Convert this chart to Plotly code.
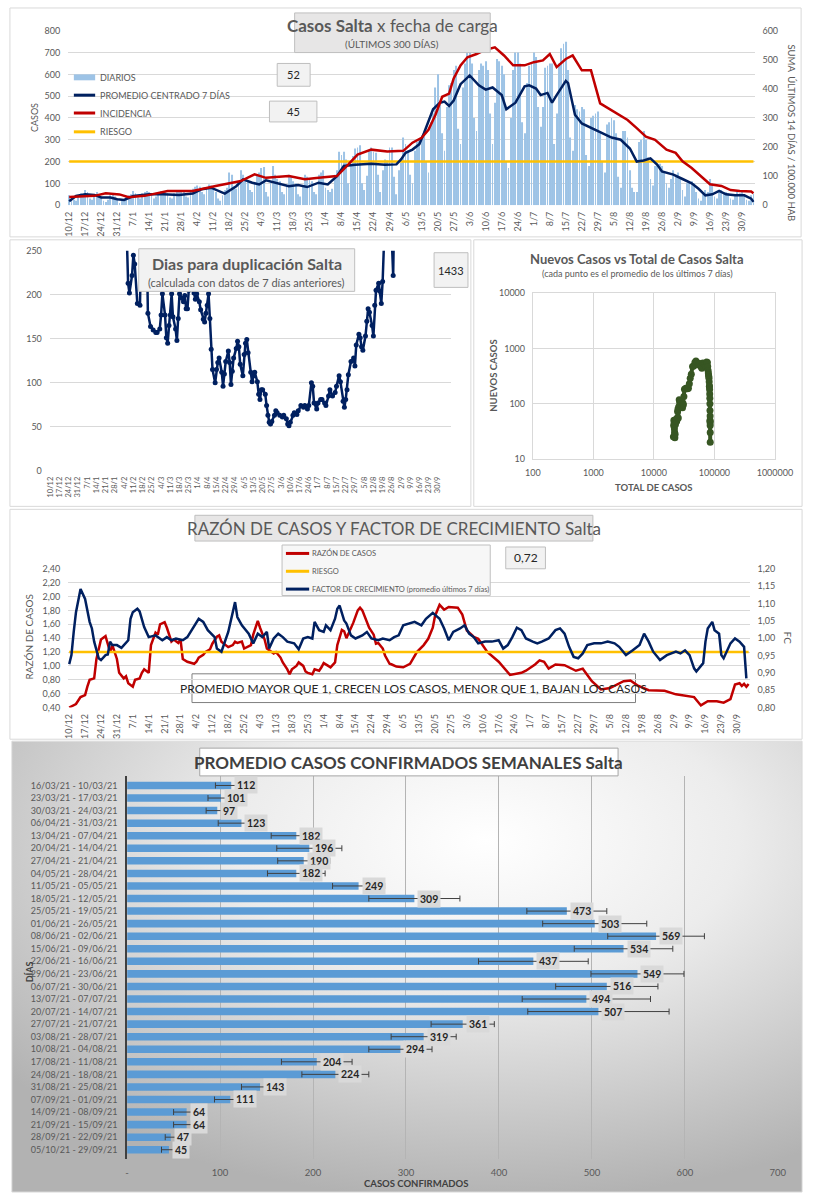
import base64
import pandas as pd
import plotly.graph_objects as go

W, H = 822, 1200
FONT = "Lato, 'DejaVu Sans', sans-serif"
TXT = "#595959"
DARK = "#262626"
GRID = "#d9d9d9"
NAVY = "#002060"
RED = "#c00000"
YELLOW = "#ffc000"
BAR_LIGHT = "#9dc3e6"
BAR_BLUE = "#5b9bd5"
GREEN = "#375623"

# ---------------- DATA ----------------
FECHA_INICIO = "2020-12-10"

# daily cases (Thu..Wed weeks)
DIARIOS = [
    45, 40, 25, 20, 45, 55, 50,
    70, 60, 30, 25, 50, 60, 45,
    40, 20, 15, 25, 45, 50, 40,
    30, 10, 20, 25, 40, 45, 50,
    65, 55, 35, 30, 55, 60, 65,
    60, 50, 30, 40, 55, 65, 60,
    60, 55, 35, 30, 55, 65, 70,
    70, 60, 40, 35, 60, 75, 85,
    90, 85, 60, 50, 80, 95, 90,
    80, 60, 30, 20, 45, 70, 80,
    150, 140, 85, 75, 110, 160, 140,
    125, 110, 70, 60, 100, 140, 150,
    170, 175, 60, 40, 110, 180, 140,
    120, 110, 60, 50, 95, 140, 130,
    110, 100, 50, 40, 90, 140, 130,
    120, 110, 60, 50, 140, 150, 160,
    80, 70, 60, 75, 140, 160, 245,
    230, 245, 210, 100, 180, 225, 260,
    265, 275, 100, 70, 135, 250, 265,
    245, 240, 140, 60, 160, 210, 205,
    265, 265, 130, 50, 160, 195, 310,
    280, 250, 140, 100, 250, 290, 300,
    320, 330, 200, 150, 380, 420, 540,
    600, 470, 330, 250, 450, 550, 560,
    620, 640, 350, 280, 540, 650, 700,
    700, 650, 400, 340, 620, 650, 640,
    660, 620, 420, 280, 470, 670, 660,
    640, 600, 200, 170, 400, 620, 700,
    700, 650, 380, 330, 560, 640, 650,
    700, 680, 450, 360, 450, 630, 640,
    650, 650, 280, 420, 650, 720, 740,
    750, 620, 310, 250, 460, 440, 430,
    450, 440, 230, 180, 400, 410, 420,
    430, 330, 200, 150, 370, 380, 400,
    390, 330, 130, 80, 340, 340, 310,
    160, 80, 60, 60, 290, 300, 340,
    300, 220, 120, 90, 180, 190, 190,
    180, 150, 100, 80, 120, 160, 140,
    150, 120, 70, 40, 100, 110, 110,
    100, 60, 30, 20, 50, 70, 60,
    120, 100, 40, 30, 70, 70, 60,
    60, 55, 30, 25, 50, 60, 55,
    60, 50, 25, 20, 45, 52,
]

# 7-day centered average (day number since start, value)
PROM_DIA = [0, 3, 7, 11, 14, 18, 21, 24, 28, 35,
            41, 48, 54, 58, 62, 68, 73, 76, 80, 83,
            86, 90, 96, 100, 104, 109, 113, 117, 120, 125,
            132, 138, 143, 145, 147, 150, 153, 155, 157, 159,
            162, 164, 166, 168, 171, 175, 179, 182, 185, 189,
            191, 195, 199, 201, 204, 206, 209, 211, 213, 217,
            218, 221, 224, 228, 233, 237, 241, 245, 248, 251,
            254, 257, 259, 264, 268, 272, 275, 278, 281, 284,
            287, 291, 295, 298, 299]
PROM_VAL = [18, 42, 50, 47, 35, 35, 27, 24, 42, 50,
            50, 47, 53, 73, 80, 53, 87, 118, 103, 95,
            114, 103, 87, 92, 83, 103, 95, 133, 180, 185,
            190, 185, 187, 210, 240, 255, 280, 330, 390, 440,
            470, 475, 455, 480, 555, 595, 550, 530, 540, 505,
            440, 470, 545, 550, 535, 505, 515, 470, 505, 570,
            560, 415, 375, 355, 330, 310, 300, 260, 200, 205,
            215, 185, 155, 140, 120, 100, 75, 45, 50, 65,
            50, 45, 45, 30, 15]

# incidence: sum last 14 days / 100.000 hab (right axis)
INC_DIA = [0, 11, 16, 22, 26, 33, 43, 54, 64, 75,
           81, 86, 96, 103, 109, 117, 122, 126, 132, 139,
           146, 150, 154, 157, 160, 163, 166, 168, 171, 174,
           178, 181, 186, 190, 194, 199, 203, 207, 210, 213,
           217, 220, 224, 228, 232, 238, 244, 248, 252, 256,
           261, 265, 268, 272, 276, 280, 285, 289, 293, 296,
           298, 299]
INC_VAL = [28, 32, 41, 37, 27, 32, 49, 49, 66, 83,
           106, 94, 100, 89, 94, 100, 140, 174, 191, 185,
           187, 215, 232, 259, 310, 373, 384, 436, 481, 509,
           520, 532, 543, 515, 481, 481, 492, 498, 520, 475,
           503, 515, 464, 464, 350, 321, 293, 265, 236, 225,
           191, 180, 151, 128, 100, 72, 66, 52, 49, 49,
           47, 41]

RIESGO_CASOS = 200

# days for doubling
DUP_DIA = [57, 59, 60, 62, 63, 64, 66, 68, 69, 71,
           73, 74, 76, 78, 80, 81, 83, 84, 85, 87,
           88, 89, 90, 91, 92, 93, 95, 96, 97, 98,
           100, 101, 102, 103, 104, 105, 106, 107, 109, 110,
           111, 113, 114, 116, 117, 118, 119, 120, 121, 122,
           123, 125, 126, 127, 128, 130, 131, 132, 133, 135,
           136, 137, 138, 139, 141, 142, 143, 144, 146, 147,
           148, 149, 150, 152, 153, 154, 155, 157, 158, 159,
           160, 161, 163, 164, 165, 166, 167, 168, 170, 171,
           172, 174, 176, 177, 179, 180, 181, 182, 184, 185,
           187, 188, 190, 192, 193, 195, 196, 198, 199, 200,
           202, 203, 205, 206, 208, 209, 211, 212, 214, 216,
           217, 219, 220, 222, 223, 224, 225, 226, 228, 230,
           231, 232, 234, 235, 236, 237, 239, 240, 241, 242,
           244, 245, 246, 247, 249, 250, 251, 252, 254, 258,
           260, 261]
DUP_VAL = [320, 213, 202, 222, 245, 235, 190, 188, 270, 300,
           280, 179, 164, 160, 157, 157, 161, 177, 201, 177,
           151, 145, 165, 177, 201, 175, 161, 148, 173, 201,
           196, 192, 199, 184, 184, 205, 280, 270, 202, 195,
           201, 192, 183, 172, 169, 179, 188, 201, 173, 138,
           115, 100, 115, 123, 128, 112, 96, 110, 124, 136,
           123, 98, 113, 128, 139, 147, 141, 121, 108, 132,
           145, 149, 134, 112, 101, 108, 112, 101, 87, 81,
           92, 92, 87, 74, 63, 55, 53, 56, 63, 68,
           66, 63, 61, 63, 59, 53, 51, 55, 63, 66,
           64, 68, 74, 72, 74, 70, 74, 100, 96, 77,
           70, 77, 81, 81, 77, 74, 85, 92, 85, 89,
           96, 108, 101, 79, 72, 81, 92, 109, 124, 128,
           119, 143, 155, 151, 141, 137, 153, 170, 184, 180,
           165, 153, 188, 205, 213, 204, 190, 215, 300, 300,
           222, 320]

# new cases vs total cases
SC_TOTAL = [21000, 21200, 21400, 21600, 21800, 22000, 22200, 22400, 22700, 23000,
            23400, 23800, 24200, 24600, 25000, 25300, 25700, 26200, 26700, 27200,
            27700, 28200, 28700, 29200, 29700, 30200, 30700, 31300, 32000, 33300,
            34600, 35900, 37200, 38500, 39800, 41500, 43500, 45500, 47500, 49500,
            52000, 54500, 57000, 59500, 62000, 64500, 67000, 69500, 72000, 74500,
            76500, 77500, 78500, 79300, 80000, 80700, 81300, 81900, 82400, 82800,
            83200, 83600, 83900, 84200, 84400, 84550, 84700, 84850, 85000, 85100,
            85200, 85250]
SC_NUEVOS = [25, 40, 50, 45, 35, 30, 24, 28, 42, 50,
             52, 48, 55, 72, 80, 55, 88, 118, 105, 96,
             112, 100, 88, 92, 84, 102, 96, 135, 182, 188,
             192, 186, 190, 230, 290, 340, 470, 480, 560, 595,
             550, 505, 535, 470, 440, 545, 530, 505, 470, 570,
             560, 470, 400, 360, 330, 310, 290, 250, 205, 210,
             180, 150, 125, 100, 75, 50, 48, 60, 45, 40,
             30, 20]

# case ratio (left axis)
RAZON_DIA = [0, 3, 5, 7, 8, 9, 11, 12, 14, 15,
             16, 18, 19, 21, 22, 24, 25, 26, 28, 29,
             31, 32, 33, 35, 36, 38, 39, 40, 42, 43,
             45, 46, 48, 49, 50, 52, 53, 55, 56, 57,
             59, 60, 62, 63, 65, 66, 67, 69, 70, 72,
             73, 74, 76, 77, 79, 80, 81, 83, 84, 86,
             87, 89, 90, 91, 93, 94, 96, 97, 98, 100,
             101, 103, 104, 105, 107, 108, 110, 111, 112, 114,
             115, 117, 118, 120, 121, 122, 124, 125, 127, 128,
             129, 131, 132, 134, 135, 136, 138, 139, 141, 142,
             144, 147, 150, 153, 156, 158, 160, 161, 163, 165,
             167, 171, 173, 175, 178, 180, 184, 189, 192, 194,
             199, 201, 205, 207, 209, 211, 214, 218, 223, 226,
             230, 234, 238, 244, 247, 250, 255, 261, 262, 267,
             272, 275, 278, 281, 285, 288, 291, 293, 295, 296,
             297, 298, 299]
RAZON_VAL = [0.40, 0.45, 0.55, 0.58, 0.70, 0.80, 0.82, 1.10, 1.38, 1.41,
             1.43, 1.20, 1.30, 1.10, 0.90, 0.82, 0.85, 0.75, 0.70, 0.80,
             0.82, 0.90, 0.95, 0.90, 1.30, 1.48, 1.45, 1.60, 1.63, 1.55,
             1.35, 1.38, 1.33, 1.38, 1.10, 1.06, 1.05, 1.03, 1.06, 1.12,
             1.16, 1.20, 1.24, 1.32, 1.42, 1.44, 1.35, 1.30, 1.27, 1.30,
             1.35, 1.33, 1.35, 1.25, 1.28, 1.30, 1.45, 1.65, 1.55, 1.38,
             1.25, 1.20, 1.18, 1.20, 1.12, 1.05, 0.95, 0.88, 0.95, 1.00,
             1.05, 1.00, 0.92, 0.90, 0.88, 0.95, 0.93, 0.98, 1.04, 1.00,
             0.98, 1.05, 1.30, 1.52, 1.50, 1.40, 1.55, 1.62, 1.80, 1.84,
             1.80, 1.65, 1.55, 1.45, 1.32, 1.33, 1.25, 1.15, 1.03, 1.02,
             0.99, 0.98, 1.03, 1.20, 1.30, 1.39, 1.55, 1.72, 1.88, 1.81,
             1.85, 1.84, 1.74, 1.51, 1.42, 1.39, 1.20, 1.06, 0.95, 0.87,
             0.90, 0.93, 1.02, 1.08, 1.06, 0.96, 1.02, 1.01, 0.93, 0.96,
             0.78, 0.66, 0.68, 0.78, 0.79, 0.72, 0.65, 0.65, 0.64, 0.59,
             0.57, 0.55, 0.43, 0.49, 0.49, 0.47, 0.52, 0.73, 0.75, 0.71,
             0.74, 0.70, 0.74]
RIESGO_RAZON = 1.20

# growth factor, 7-day average (right axis)
FC_DIA = [0, 1, 2, 3, 5, 7, 9, 10, 11, 13,
          14, 16, 17, 18, 19, 21, 23, 26, 27, 28,
          30, 31, 33, 34, 35, 38, 40, 41, 43, 45,
          47, 50, 52, 55, 57, 59, 61, 64, 65, 67,
          68, 70, 72, 73, 74, 76, 79, 81, 83, 85,
          87, 88, 90, 92, 94, 96, 99, 101, 103, 105,
          107, 108, 110, 112, 113, 115, 117, 118, 119, 121,
          122, 124, 126, 129, 131, 133, 136, 138, 141, 143,
          145, 147, 152, 155, 157, 160, 163, 165, 167, 169,
          172, 174, 176, 178, 180, 183, 186, 189, 191, 193,
          195, 197, 199, 201, 204, 206, 208, 211, 214, 216,
          218, 220, 222, 224, 226, 228, 231, 234, 237, 240,
          242, 245, 248, 251, 253, 255, 257, 260, 263, 267,
          269, 271, 273, 275, 276, 279, 280, 281, 283, 284,
          286, 287, 288, 290, 291, 293, 295, 297, 298]
FC_VAL = [0.925, 0.951, 1.018, 1.075, 1.142, 1.113, 1.047, 1.028, 0.990, 0.942,
          0.937, 0.951, 0.953, 0.990, 0.980, 0.980, 0.972, 0.994, 1.056, 1.075,
          1.085, 1.077, 1.032, 1.018, 1.003, 1.008, 0.999, 0.994, 1.003, 0.994,
          0.999, 0.994, 1.003, 1.037, 1.056, 1.047, 1.023, 1.003, 0.970, 0.961,
          0.980, 1.018, 1.075, 1.104, 1.061, 1.037, 1.013, 0.985, 1.013, 1.003,
          1.018, 0.970, 0.999, 1.013, 1.003, 0.990, 0.985, 0.968, 0.999, 1.003,
          0.999, 1.047, 1.023, 1.018, 1.037, 1.023, 1.056, 1.085, 1.094, 1.051,
          1.042, 1.008, 0.999, 1.008, 1.018, 0.999, 0.994, 0.999, 0.994, 1.003,
          1.008, 1.037, 1.047, 1.037, 1.056, 1.073, 1.056, 1.028, 0.994, 1.018,
          1.028, 1.037, 1.013, 1.003, 0.985, 0.990, 0.990, 0.994, 0.970, 0.980,
          1.003, 1.030, 1.023, 0.999, 0.990, 0.985, 0.990, 0.999, 1.023, 1.028,
          1.013, 0.975, 0.946, 0.942, 0.956, 0.980, 0.985, 0.985, 0.990, 0.985,
          0.975, 0.951, 0.965, 0.980, 1.013, 0.990, 0.961, 0.937, 0.951, 0.961,
          0.956, 0.965, 0.951, 0.913, 0.904, 0.928, 0.990, 1.028, 1.047, 1.023,
          1.013, 0.951, 0.942, 0.970, 0.985, 0.999, 0.990, 0.975, 0.884]

# weekly averages
SEMANAS = ["16/03/21 - 10/03/21", "23/03/21 - 17/03/21", "30/03/21 - 24/03/21",
           "06/04/21 - 31/03/21", "13/04/21 - 07/04/21", "20/04/21 - 14/04/21",
           "27/04/21 - 21/04/21", "04/05/21 - 28/04/21", "11/05/21 - 05/05/21",
           "18/05/21 - 12/05/21", "25/05/21 - 19/05/21", "01/06/21 - 26/05/21",
           "08/06/21 - 02/06/21", "15/06/21 - 09/06/21", "22/06/21 - 16/06/21",
           "29/06/21 - 23/06/21", "06/07/21 - 30/06/21", "13/07/21 - 07/07/21",
           "20/07/21 - 14/07/21", "27/07/21 - 21/07/21", "03/08/21 - 28/07/21",
           "10/08/21 - 04/08/21", "17/08/21 - 11/08/21", "24/08/21 - 18/08/21",
           "31/08/21 - 25/08/21", "07/09/21 - 01/09/21", "14/09/21 - 08/09/21",
           "21/09/21 - 15/09/21", "28/09/21 - 22/09/21", "05/10/21 - 29/09/21"]
PROMEDIO_SEMANAL = [112, 101, 97, 123, 182, 196, 190, 182, 249, 309,
                    473, 503, 569, 534, 437, 549, 516, 494, 507, 361,
                    319, 294, 204, 224, 143, 111, 64, 64, 47, 45]
ERROR_SEMANAL = [17, 14, 12, 25, 27, 35, 28, 31, 28, 49,
                 43, 56, 52, 53, 59, 50, 55, 69, 76, 34,
                 35, 34, 38, 36, 20, 17, 14, 14, 6, 8]

TICKS_BARRAS = [0, 100, 200, 300, 400, 500, 600, 700]
TICKS_BARRAS_TXT = ["-", "100", "200", "300", "400", "500", "600", "700"]
TICKS_TOTAL = [100, 1000, 10000, 100000, 1000000]
TICKS_TOTAL_TXT = ["100", "1000", "10000", "100000", "1000000"]
TICKS_NUEVOS = [10, 100, 1000, 10000]
TICKS_NUEVOS_TXT = ["10", "100", "1000", "10000"]

# ---------------- HELPERS ----------------
def fx(x):
    return x / W


def fy(y):
    return 1 - y / H


t0 = pd.Timestamp(FECHA_INICIO)
fechas = pd.date_range(t0, periods=len(DIARIOS), freq="D")
semanas_tick = [d.strftime("%Y-%m-%d") for d in pd.date_range(t0, fechas[-1], freq="7D")]
semanas_txt = [f"{d.day}/{d.month}" for d in pd.date_range(t0, fechas[-1], freq="7D")]


def dias(lst):
    return [(t0 + pd.Timedelta(days=d)).strftime("%Y-%m-%d") for d in lst]


def ts(t):
    return t.strftime("%Y-%m-%d %H:%M")


DAY_MS = 86400000
half = pd.Timedelta(hours=12)

fig = go.Figure()

# ---- panel 1: daily cases ----
fig.add_trace(go.Bar(x=fechas, y=DIARIOS, width=0.38 * DAY_MS,
                     marker=dict(color=BAR_LIGHT, line=dict(width=0)),
                     xaxis="x", yaxis="y"))
fig.add_trace(go.Scatter(x=[fechas[0], fechas[-1]], y=[RIESGO_CASOS, RIESGO_CASOS],
                         mode="lines", line=dict(color=YELLOW, width=2.5),
                         xaxis="x", yaxis="y"))
fig.add_trace(go.Scatter(x=dias(PROM_DIA), y=PROM_VAL, mode="lines",
                         line=dict(color=NAVY, width=2.5), xaxis="x", yaxis="y"))
fig.add_trace(go.Scatter(x=dias(INC_DIA), y=INC_VAL, mode="lines",
                         line=dict(color=RED, width=2.5), xaxis="x", yaxis="y2"))

# ---- panel 2: doubling days ----
fig.add_trace(go.Scatter(x=dias(DUP_DIA), y=DUP_VAL, mode="lines+markers",
                         line=dict(color=NAVY, width=2.5),
                         marker=dict(color=NAVY, size=5),
                         xaxis="x2", yaxis="y3"))

# ---- panel 3: new vs total ----
fig.add_trace(go.Scatter(x=SC_TOTAL, y=SC_NUEVOS, mode="lines+markers",
                         line=dict(color=GREEN, width=4),
                         marker=dict(color=GREEN, size=7),
                         xaxis="x3", yaxis="y4"))

# ---- panel 4: ratio and growth factor ----
fig.add_trace(go.Scatter(x=dias(RAZON_DIA), y=RAZON_VAL, mode="lines",
                         line=dict(color=RED, width=2.5), xaxis="x4", yaxis="y5"))
fig.add_trace(go.Scatter(x=[fechas[0], fechas[-1]], y=[RIESGO_RAZON, RIESGO_RAZON],
                         mode="lines", line=dict(color=YELLOW, width=2.5),
                         xaxis="x4", yaxis="y5"))
fig.add_trace(go.Scatter(x=dias(FC_DIA), y=FC_VAL, mode="lines",
                         line=dict(color=NAVY, width=2.5), xaxis="x4", yaxis="y6"))

# ---- panel 5: weekly averages ----
fig.add_trace(go.Bar(orientation="h", x=PROMEDIO_SEMANAL, y=SEMANAS, width=0.6,
                     marker=dict(color=BAR_BLUE, line=dict(width=0)),
                     error_x=dict(type="data", array=ERROR_SEMANAL, color="#404040",
                                  thickness=1, width=3),
                     xaxis="x5", yaxis="y7"))

# ---------------- AXES ----------------
hidden_tick = dict(ticks="outside", ticklen=5, tickcolor="rgba(0,0,0,0)")
date_common = dict(type="date", tickmode="array", tickvals=semanas_tick, ticktext=semanas_txt,
                   tickangle=-90, showgrid=False, zeroline=False,
                   ticks="outside", ticklen=2, tickcolor="rgba(0,0,0,0)")

rng_top = [ts(t0 - half), ts(fechas[-1] + half)]

layout_axes = dict(
    xaxis=dict(domain=[fx(62), fx(771)], anchor="y", range=rng_top,
               tickfont=dict(size=9, color=TXT), **date_common),
    yaxis=dict(domain=[fy(201), fy(25)], anchor="x", range=[0, 800], dtick=100,
               gridcolor=GRID, zeroline=False, tickfont=dict(size=9, color=TXT), **hidden_tick),
    yaxis2=dict(overlaying="y", side="right", anchor="x", range=[0, 600], dtick=100,
                showgrid=False, zeroline=False, tickfont=dict(size=9, color=TXT), **hidden_tick),
    xaxis2=dict(domain=[fx(43), fx(457)], anchor="y3",
                range=[ts(t0 - half), ts(t0 + pd.Timedelta(days=303.5))],
                tickfont=dict(size=7.5, color=TXT), **date_common),
    yaxis3=dict(domain=[fy(469), fy(247)], anchor="x2", range=[0, 250], dtick=50,
                gridcolor=GRID, zeroline=False, tickfont=dict(size=9, color=TXT), **hidden_tick),
    xaxis3=dict(domain=[fx(542), fx(792)], anchor="y4", type="log", range=[2, 6],
                tickvals=TICKS_TOTAL, ticktext=TICKS_TOTAL_TXT, gridcolor=GRID,
                showline=True, linecolor=GRID, mirror=True, zeroline=False,
                tickfont=dict(size=9, color=TXT), **hidden_tick),
    yaxis4=dict(domain=[fy(457), fy(290)], anchor="x3", type="log", range=[1, 4],
                tickvals=TICKS_NUEVOS, ticktext=TICKS_NUEVOS_TXT, gridcolor=GRID,
                showline=True, linecolor=GRID, mirror=True, zeroline=False,
                tickfont=dict(size=9, color=TXT), **hidden_tick),
    xaxis4=dict(domain=[fx(62), fx(766)], anchor="y5", range=rng_top,
                tickfont=dict(size=9, color=TXT), **date_common),
    yaxis5=dict(domain=[fy(708), fy(568)], anchor="x4", range=[0.4, 2.4], dtick=0.2,
                tick0=0.4, tickformat=".2f", gridcolor=GRID, zeroline=False,
                tickfont=dict(size=9, color=TXT), **hidden_tick),
    yaxis6=dict(overlaying="y5", side="right", anchor="x4", range=[0.8, 1.2], dtick=0.05,
                tick0=0.8, tickformat=".2f", showgrid=False, zeroline=False,
                tickfont=dict(size=9, color=TXT), **hidden_tick),
    xaxis5=dict(domain=[fx(123), fx(795)], anchor="y7", range=[0, 700],
                tickvals=TICKS_BARRAS, ticktext=TICKS_BARRAS_TXT, gridcolor="#b4b4b4",
                zeroline=False, tickfont=dict(size=9.5, color=TXT), **hidden_tick),
    yaxis7=dict(domain=[fy(1163.4), fy(777.6)], anchor="x5", type="category",
                autorange="reversed", showline=True, linecolor="#404040", linewidth=1.5,
                showgrid=False, tickfont=dict(size=9, color=TXT),
                ticks="outside", ticklen=6, tickcolor="rgba(0,0,0,0)"),
)

# ---------------- DECORATION ----------------
shapes = []
annotations = []


def rect(x0, y0, x1, y1, fill="rgba(0,0,0,0)", line=GRID, width=1, layer="above"):
    shapes.append(dict(type="rect", xref="paper", yref="paper",
                       x0=fx(x0), x1=fx(x1), y0=fy(y1), y1=fy(y0),
                       fillcolor=fill, line=dict(color=line, width=width), layer=layer))


def seg(x0, x1, y, color, width=3):
    shapes.append(dict(type="line", xref="paper", yref="paper",
                       x0=fx(x0), x1=fx(x1), y0=fy(y), y1=fy(y),
                       line=dict(color=color, width=width)))


def note(x, y, text, size, color=TXT, xanchor="center", angle=0):
    annotations.append(dict(x=fx(x), y=fy(y), xref="paper", yref="paper", text=text,
                            showarrow=False, font=dict(size=size, color=color),
                            xanchor=xanchor, yanchor="middle", textangle=angle))


# panel borders
rect(2, 2, 819, 233)
rect(2, 236, 478, 505)
rect(481, 236, 820, 505)
rect(2, 508, 820, 740)
rect(4, 742, 820, 1197)

# panel 1
rect(296, 7, 498, 47, fill="#e7e6e6", line="#bfbfbf")
note(397, 20, "<b>Casos Salta</b> x fecha de carga", 17)
note(397, 38, "(ÚLTIMOS 300 DÍAS)", 10)
rect(278, 58, 312, 81, fill="#f2f2f2", line="#bfbfbf")
note(295, 69.5, "52", 11, DARK)
rect(270, 96, 319, 117, fill="#f2f2f2", line="#bfbfbf")
note(294.5, 106.5, "45", 11, DARK)
rect(68, 69, 90, 75, fill=BAR_LIGHT, line=BAR_LIGHT, width=0)
seg(68, 90, 90, NAVY)
seg(68, 90, 108, RED)
seg(68, 90, 127, YELLOW)
note(93, 72, "DIARIOS", 9, xanchor="left")
note(93, 90, "PROMEDIO CENTRADO 7 DÍAS", 9, xanchor="left")
note(93, 108, "INCIDENCIA", 9, xanchor="left")
note(93, 127, "RIESGO", 9, xanchor="left")
note(28, 113, "CASOS", 9, angle=-90)
note(809, 128, "SUMA  ÚLTIMOS 14 DÍAS / 100.000 HAB", 9.5, angle=90)

# panel 2
rect(135, 245, 358, 288, fill="#f2f2f2", line="#bfbfbf")
note(246.5, 260, "<b>Dias para duplicación Salta</b>", 16)
note(246.5, 279, "(calculada con datos de 7 días anteriores)", 11)
rect(440, 249, 475, 284, fill="#f2f2f2", line="#bfbfbf")
note(457.5, 266.5, "1433", 11, DARK)

# panel 3
note(650, 255, "<b>Nuevos Casos vs Total de Casos Salta</b>", 13)
note(650, 270, "(cada punto es el promedio de los últimos 7 días)", 9)
note(501, 373, "<b>NUEVOS CASOS</b>", 9.5, angle=-90)
note(667, 486, "<b>TOTAL DE CASOS</b>", 9.5)

# panel 4
rect(193, 514, 604, 540, fill="#e7e6e6", line="#bfbfbf")
note(398.5, 527, "RAZÓN DE CASOS Y FACTOR DE CRECIMIENTO Salta", 17)
rect(283, 544, 498, 595, fill="#f7f7f7", line="#bfbfbf")
seg(287, 311, 552.5, RED)
seg(287, 311, 570.5, YELLOW)
seg(287, 311, 588.5, NAVY)
note(312, 552.5, "RAZÓN DE CASOS", 7.5, xanchor="left")
note(312, 570.5, "RIESGO", 7.5, xanchor="left")
note(312, 588.5, "FACTOR DE CRECIMIENTO (promedio últimos 7 días)", 7.5, xanchor="left")
rect(514, 546, 555, 568, fill="#f2f2f2", line="#bfbfbf")
note(534.5, 557, "0,72", 12, DARK)
rect(190, 674, 648, 703, fill="white", line="#7f7f7f", layer="below")
note(419, 689, "PROMEDIO MAYOR QUE 1, CRECEN LOS CASOS, MENOR QUE 1, BAJAN LOS CASOS", 12, DARK)
note(22, 637, "RAZÓN DE CASOS", 10, angle=-90)
note(805, 638, "FC", 10, angle=90)

# panel 5
rect(198, 749, 630, 777, fill="white", line="#a6a6a6")
note(414, 763, "<b>PROMEDIO CASOS CONFIRMADOS SEMANALES Salta</b>", 17, "#404040")
note(22, 975, "<b>DÍAS</b>", 9, "#404040", angle=-90)
note(421, 1188, "<b>CASOS CONFIRMADOS</b>", 9.5, "#404040")
for s, v in zip(SEMANAS, PROMEDIO_SEMANAL):
    annotations.append(dict(x=v, y=s, xref="x5", yref="y7", text=f"<b>{v}</b>",
                            showarrow=False, xanchor="left", yanchor="middle", xshift=3,
                            font=dict(size=10.5, color=DARK),
                            bgcolor="#d9d9d9", borderpad=2))

svg = ("<svg xmlns='http://www.w3.org/2000/svg' width='816' height='455' "
       "viewBox='0 0 816 455' preserveAspectRatio='none'>"
       "<defs><radialGradient id='g' cx='0.6' cy='0.22' r='0.8'>"
       "<stop offset='0' stop-color='#ffffff'/>"
       "<stop offset='0.4' stop-color='#ececec'/>"
       "<stop offset='1' stop-color='#b2b2b2'/>"
       "</radialGradient></defs>"
       "<rect width='816' height='455' fill='url(#g)'/></svg>")
src = "data:image/svg+xml;base64," + base64.b64encode(svg.encode()).decode()

# initial size leaves room for the default 8px page margin; the post script
# removes the margin and sizes the figure to the full visible page
fig.update_layout(
    width=W - 16, height=H - 16, autosize=False,
    margin=dict(l=0, r=0, t=0, b=0),
    paper_bgcolor="white", plot_bgcolor="rgba(0,0,0,0)",
    font=dict(family=FONT, color=TXT),
    separators=",.",
    showlegend=False,
    shapes=shapes, annotations=annotations,
    images=[dict(source=src, xref="paper", yref="paper", x=fx(4), y=fy(742),
                 sizex=816 / W, sizey=455 / H, xanchor="left", yanchor="top",
                 sizing="stretch", layer="below")],
    **layout_axes,
)

POST = ("var gd=document.getElementById('{plot_id}');"
        "document.body.style.margin='0';"
        "document.body.style.overflow='hidden';"
        "document.documentElement.style.overflow='hidden';"
        "var w=Math.max(document.documentElement.clientWidth||0, window.innerWidth||0, %d);"
        "var h=Math.max(document.documentElement.clientHeight||0, window.innerHeight||0, %d);"
        "gd.style.width=w+'px';gd.style.height=h+'px';"
        "return Plotly.relayout(gd,{width:w,height:h});" % (W, H))

fig.write_html("out.html", config={"displayModeBar": False}, post_script=POST)
